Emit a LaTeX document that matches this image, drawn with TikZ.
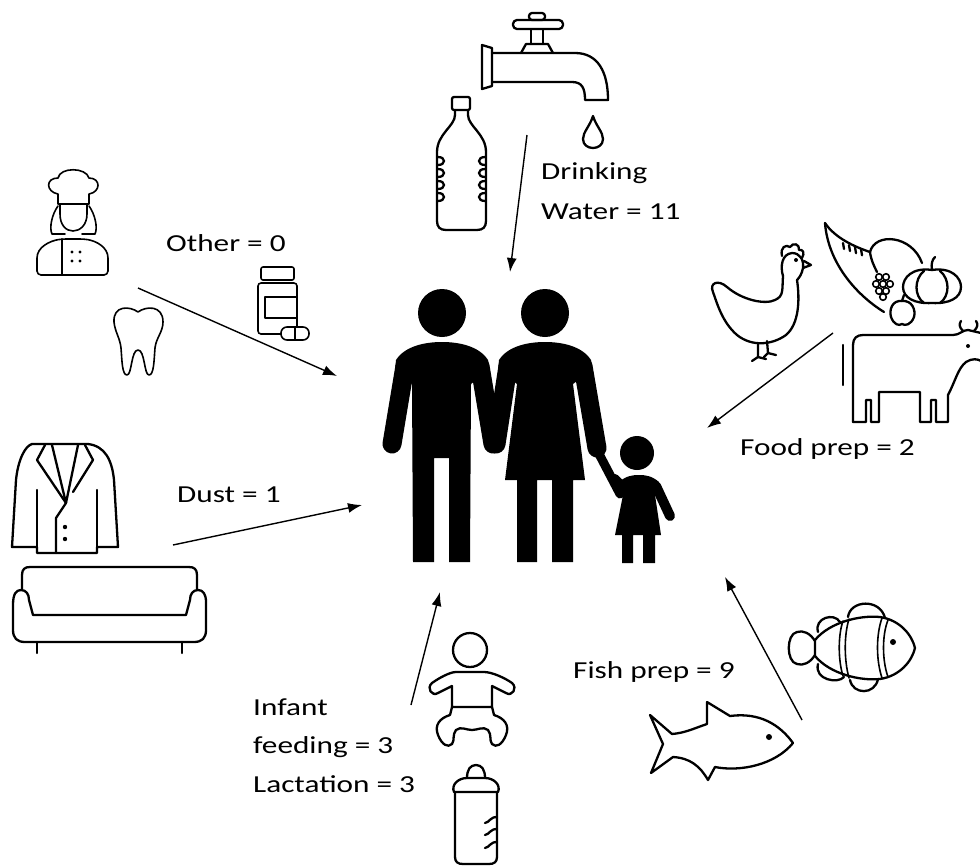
\documentclass[tikz,border=0pt]{standalone}
\usepackage{fontspec}
\setmainfont[FakeStretch=1.28]{Carlito}
\usetikzlibrary{arrows.meta}
\begin{document}
\begin{tikzpicture}[x=1pt,y=-1pt,
  icon/.style={line width=2.3pt,line join=round,line cap=round},
  thinicon/.style={line width=1.6pt,line join=round,line cap=round},
  limb/.style={line width=19pt,line cap=round},
  flow/.style={line width=1.4pt,-{Latex[length=14pt,width=10pt]}},
  lbl/.style={anchor=base west,inner sep=0pt,font=\fontsize{24.4}{38}\selectfont}]
\useasboundingbox (0,0) rectangle (980,865);

% ---------- family silhouette ----------
% man
\fill (442,313) circle (24);
\fill (395,370) -- (396,360) .. controls (405,346) and (425,342) .. (442,342) .. controls (459,342) and (479,346) .. (488,360)
  -- (489,370) -- (471,384) -- (470,562) -- (449,562) -- (449,458) -- (434,458) -- (434,562) -- (413,562) -- (412,384) -- cycle;
\draw[limb] (405,366) -- (392,444);
\draw[limb] (480,366) -- (493,444);
% woman
\fill (545,313) circle (24);
\fill (498,370) -- (499,360) .. controls (508,346) and (528,342) .. (545,342) .. controls (562,342) and (582,346) .. (591,360)
  -- (592,370) -- (573,384) -- (585,480) -- (573,480) -- (573,562) -- (552,562) -- (552,480) -- (537,480) -- (537,562)
  -- (517,562) -- (517,480) -- (505,480) -- (517,384) -- cycle;
\draw[limb] (508,366) -- (496,444);
\draw[limb] (583,366) -- (597,448);
\draw[line width=9pt,line cap=round] (598,452) -- (620,494);
% child
\fill (637,453) circle (17);
\fill (619,482) .. controls (626,476) and (632,475) .. (639,475) .. controls (646,475) and (652,476) .. (659,482)
  -- (655,495) -- (661,535) -- (655,535) -- (655,563) -- (643,563) -- (643,535) -- (633,535) -- (633,563)
  -- (622,563) -- (622,535) -- (615,535) -- (623,495) -- cycle;
\draw[line width=10pt,line cap=round] (656,486) -- (670,516);
\draw[line width=8pt,line cap=round] (624,487) -- (615,478);

% ---------- tap, drop and bottle ----------
\draw[icon] (482,45) -- (492,48) -- (492,86) -- (482,89) -- cycle;
\draw[icon] (492,53) -- (575,53) .. controls (598,53) and (608,72) .. (608,100) -- (585,100)
  .. controls (585,88) and (582,82) .. (572,82) -- (492,82);
\draw[icon] (521,53) -- (526,44) -- (548,44) -- (553,53);
\draw[icon] (531,44) -- (531,29) -- (543,29) -- (543,44);
\draw[icon,rounded corners=4pt] (513,20) rectangle (563,29);
\draw[icon,rounded corners=3pt] (529,13) rectangle (545,20);
\draw[icon] (593,116) .. controls (590,126) and (583,132) .. (583,139) .. controls (583,145) and (588,148) .. (593,148)
  .. controls (598,148) and (603,145) .. (603,139) .. controls (603,132) and (596,126) .. (593,116) -- cycle;
\draw[icon,rounded corners=2pt] (452,97) rectangle (470,110);
\draw[icon] (455,110) -- (455,115) .. controls (455,126) and (437,134) .. (437,152) -- (437,221)
  .. controls (437,227) and (440,230) .. (446,230) -- (477,230) .. controls (483,230) and (486,227) .. (486,221)
  -- (486,152) .. controls (486,134) and (468,126) .. (468,115) -- (468,110);
\foreach \yy in {157,169,181,193}{
  \draw[icon] (438,\yy) .. controls (446,\yy) and (446,\yy+8) .. (438,\yy+8);
  \draw[icon] (485,\yy) .. controls (477,\yy) and (477,\yy+8) .. (485,\yy+8);
}

% ---------- chef, tooth, pill bottle ----------
\draw[thinicon] (58,204) -- (58,194) .. controls (46,192) and (45,178) .. (58,178) .. controls (60,167) and (86,167) .. (89,178)
  .. controls (101,178) and (101,192) .. (89,194) -- (89,204) -- cycle;
\draw[thinicon] (60,204) -- (60,214) .. controls (60,225) and (66,231) .. (73,231) .. controls (80,231) and (87,225) .. (87,214) -- (87,204);
\draw[thinicon] (58,206) .. controls (52,214) and (49,228) .. (52,234) -- (65,234);
\draw[thinicon] (89,206) .. controls (95,214) and (98,228) .. (95,234) -- (82,234);
\draw[thinicon,rounded corners=4pt] (37,275) -- (37,262) .. controls (37,247) and (50,241) .. (62,239) -- (84,239)
  .. controls (96,241) and (108,247) .. (108,262) -- (108,275) -- cycle;
\draw[thinicon] (62,239) -- (62,275);
\foreach \px/\py in {72/252,80/252,72/261,80/261} \fill (\px,\py) circle (1.6);
\draw[thinicon] (138,312) .. controls (130,306) and (113,305) .. (114,322) .. controls (115,332) and (120,338) .. (121,348)
  .. controls (122,360) and (122,375) .. (127,375) .. controls (132,375) and (131,350) .. (138,350)
  .. controls (145,350) and (144,375) .. (149,375) .. controls (154,375) and (154,360) .. (155,348)
  .. controls (156,338) and (163,332) .. (163,322) .. controls (163,305) and (146,306) .. (138,312) -- cycle;
\draw[thinicon,rounded corners=2pt] (261,267) rectangle (294,280);
\draw[thinicon,rounded corners=3pt] (258,283) rectangle (297,334);
\draw[thinicon] (265,297) rectangle (297,318);
\draw[thinicon,fill=white,rounded corners=6pt] (281,327) rectangle (309,340);
\draw[thinicon] (295,327) -- (295,340);

% ---------- chicken, cornucopia, cow ----------
\draw[icon] (783,276) .. controls (782,290) and (784,296) .. (775,300) .. controls (765,305) and (742,300) .. (727,287)
  .. controls (718,279) and (709,283) .. (713,292) .. controls (717,303) and (722,322) .. (737,335)
  .. controls (752,347) and (772,345) .. (786,335) .. controls (799,324) and (800,300) .. (797,280);
\draw[icon] (783,276) .. controls (780,266) and (782,254) .. (792,253) .. controls (800,253) and (804,260) .. (803,268)
  .. controls (802,274) and (799,278) .. (797,280);
\draw[icon] (782,256) .. controls (780,247) and (786,244) .. (790,247) .. controls (793,242) and (800,244) .. (799,250)
  .. controls (803,249) and (805,253) .. (802,258);
\draw[icon] (804,261) -- (811,265) -- (803,268);
\fill (796,260) circle (2);
\draw[icon] (758,343) -- (758,357) -- (752,361); \draw[icon] (758,357) -- (766,359);
\draw[icon] (767,341) -- (768,353) -- (776,355); \draw[icon] (768,353) -- (764,357);
\draw[icon] (825,223) .. controls (828,262) and (855,294) .. (884,312);
\draw[icon] (825,223) .. controls (835,238) and (855,247) .. (870,252);
\draw[icon] (870,252) .. controls (875,232) and (912,235) .. (922,263);
\draw[icon] (870,252) .. controls (871,260) and (874,266) .. (877,272);
\foreach \rx/\ry in {843,849,855,861} \draw[icon] (\rx,{243+(\rx-843)*0.35}) -- (\rx+1,{249+(\rx-843)*0.35});
\foreach \gx/\gy in {879/277,886/277,876/284,883/284,890/284,879/291,886/291,883/297}
  \draw[thinicon] (\gx,\gy) circle (3.3);
\draw[icon] (932,270) .. controls (912,267) and (903,278) .. (903,287) .. controls (903,298) and (915,304) .. (932,303)
  .. controls (949,304) and (961,298) .. (961,287) .. controls (961,278) and (952,267) .. (932,270) -- cycle;
\draw[icon] (924,271) .. controls (914,279) and (914,296) .. (924,303);
\draw[icon] (940,271) .. controls (950,279) and (950,296) .. (940,303);
\draw[icon] (932,270) .. controls (931,264) and (932,260) .. (935,257);
\draw[icon] (902,301) .. controls (892,300) and (889,310) .. (891,317) .. controls (894,325) and (899,326) .. (902,324)
  .. controls (905,326) and (911,325) .. (914,317) .. controls (916,310) and (912,300) .. (902,301) -- cycle;
\draw[icon] (902,301) -- (904,295);
\draw[icon] (853,422) -- (853,345) .. controls (853,338) and (857,335) .. (863,335) -- (953,335)
  .. controls (960,335) and (962,330) .. (968,330) -- (981,333);
\draw[icon] (853,422) -- (866,422) -- (866,400) -- (871,400) -- (871,422) -- (879,422) -- (879,392) -- (920,392)
  -- (920,422) -- (931,422) -- (931,400) -- (936,400) -- (936,422) -- (948,422) -- (948,395)
  .. controls (955,382) and (958,368) .. (966,362) .. controls (972,358) and (978,359) .. (981,361);
\draw[icon] (843,345) -- (843,385);
\draw[icon] (963,331) .. controls (959,327) and (959,324) .. (961,321);
\draw[icon] (974,331) .. controls (978,327) and (978,324) .. (976,321);
\fill (968,346) circle (2);

% ---------- jacket and sofa ----------
\draw[icon] (32,444) -- (88,444) .. controls (105,446) and (112,460) .. (114,480) -- (118,547) -- (97,547) -- (97,553)
  -- (37,553) -- (37,547) -- (12,547) -- (16,480) .. controls (18,460) and (25,446) .. (32,444) -- cycle;
\draw[icon] (37,490) -- (37,547);
\draw[icon] (97,490) -- (97,547);
\draw[icon] (45,445) -- (37,460) -- (66,503);
\draw[icon] (52,445) -- (66,503);
\draw[icon] (85,445) -- (93,460) -- (73,492);
\draw[icon] (78,445) -- (66,503);
\draw[icon] (66,503) -- (56,518) -- (56,553);
\fill (65,527) circle (2.2);
\fill (65,539) circle (2.2);
\draw[icon] (22,590) -- (22,575) .. controls (22,569) and (25,567) .. (30,567) -- (189,567)
  .. controls (194,567) and (197,569) .. (197,575) -- (197,590);
\draw[icon] (13,605) -- (13,630) .. controls (13,638) and (17,642) .. (25,642) -- (194,642)
  .. controls (202,642) and (206,638) .. (206,630) -- (206,602) .. controls (206,594) and (203,590) .. (198,590)
  .. controls (193,590) and (190,594) .. (190,600) -- (186,615) -- (33,615) -- (29,600)
  .. controls (29,594) and (26,590) .. (21,590) .. controls (16,590) and (13,594) .. (13,605) -- cycle;
\draw[icon] (37,642) -- (37,653);
\draw[icon] (182,642) -- (182,653);

% ---------- baby and feeding bottle ----------
\draw[icon] (470,650) circle (17);
\draw[icon] (456,672) -- (484,672) .. controls (492,672) and (505,678) .. (512,683) .. controls (518,688) and (512,697) .. (506,693)
  -- (492,686) -- (492,707) -- (452,707) -- (452,686) -- (438,693) .. controls (432,697) and (426,688) .. (432,683)
  .. controls (439,678) and (450,672) .. (456,672) -- cycle;
\draw[icon] (452,707) -- (450,715) .. controls (440,718) and (434,725) .. (438,735) .. controls (442,745) and (448,748) .. (452,744)
  .. controls (455,740) and (452,735) .. (456,730) .. controls (461,726) and (466,730) .. (472,730)
  .. controls (478,730) and (483,726) .. (488,730) .. controls (492,735) and (489,740) .. (492,744)
  .. controls (496,748) and (502,745) .. (506,735) .. controls (510,725) and (504,718) .. (494,715) -- (492,707);
\draw[icon] (467,778) .. controls (467,770) and (470,765) .. (476,765) .. controls (482,765) and (485,770) .. (485,778);
\draw[icon] (454,792) .. controls (451,785) and (458,778) .. (467,778) -- (485,778) .. controls (494,778) and (501,785) .. (498,792) -- cycle;
\draw[icon] (455,792) -- (455,857) .. controls (455,862) and (458,864) .. (463,864) -- (489,864)
  .. controls (494,864) and (497,862) .. (497,857) -- (497,792);
\foreach \my in {820,832,845} \draw[icon] (497,\my-3) .. controls (490,\my-3) and (490,\my+2) .. (485,\my+3);

% ---------- fishes ----------
\draw[icon] (672,734) -- (650,715) -- (663,744) -- (651,773) -- (673,757) .. controls (690,758) and (700,766) .. (708,780)
  -- (715,767) .. controls (740,772) and (775,765) .. (793,743) .. controls (780,725) and (760,712) .. (730,716)
  -- (707,702) -- (707,724) .. controls (695,728) and (685,733) .. (672,734) -- cycle;
\fill (769,737) circle (3);
\draw[icon] (815,641) .. controls (810,633) and (803,630) .. (797,632) .. controls (786,634) and (786,662) .. (797,664)
  .. controls (803,666) and (810,663) .. (815,655);
\draw[icon] (815,640) .. controls (830,622) and (860,615) .. (880,617) .. controls (900,620) and (912,635) .. (915,648)
  .. controls (912,661) and (900,676) .. (880,679) .. controls (860,681) and (830,674) .. (815,656) -- cycle;
\draw[icon] (848,617) .. controls (850,600) and (880,598) .. (885,618);
\draw[icon] (818,632) .. controls (814,618) and (834,612) .. (840,622);
\draw[icon] (818,664) .. controls (814,680) and (838,684) .. (844,677);
\draw[icon] (850,680) .. controls (853,695) and (875,695) .. (878,679);
\draw[thinicon] (843,621) .. controls (838,635) and (838,660) .. (843,676);
\draw[thinicon] (849,619) .. controls (844,635) and (844,660) .. (849,678);
\draw[thinicon] (882,618) .. controls (876,635) and (876,660) .. (882,678);
\draw[thinicon] (888,620) .. controls (882,635) and (882,660) .. (888,677);
\fill (893,642) circle (3);

% ---------- arrow end points ----------
\coordinate (wS) at (527,135);  \coordinate (wE) at (510,272);
\coordinate (oS) at (138,288);  \coordinate (oE) at (337,376);
\coordinate (fS) at (833,333);  \coordinate (fE) at (707,428);
\coordinate (dS) at (173,545);  \coordinate (dE) at (362,505);
\coordinate (iS) at (411,705);  \coordinate (iE) at (440,592);
\coordinate (pS) at (802,720);  \coordinate (pE) at (725,577);

\draw[flow] (wS) -- (wE);
\draw[flow] (oS) -- (oE);
\draw[flow] (fS) -- (fE);
\draw[flow] (dS) -- (dE);
\draw[flow] (iS) -- (iE);
\draw[flow] (pS) -- (pE);

% ---------- labels ----------
\node[lbl] (drink1) at (541,179) {Drinking};
\node[lbl] (drink2) at (541,219) {Water = 11};
\node[lbl] (other) at (166,251) {Other = 0};
\node[lbl] (food) at (740,455) {Food prep = 2};
\node[lbl] (dust) at (177,502) {Dust = 1};
\node[lbl] (fish) at (573,678) {Fish prep = 9};
\node[lbl] (inf1) at (253,715) {Infant};
\node[lbl] (inf2) at (253,753) {feeding = 3};
\node[lbl] (inf3) at (253,792) {Lactation = 3};
\end{tikzpicture}
\end{document}
